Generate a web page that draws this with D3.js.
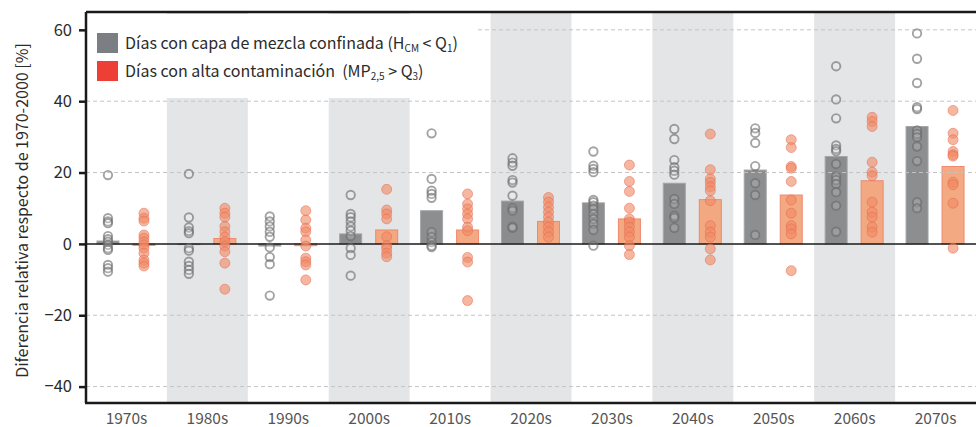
<!DOCTYPE html>
<html>
<head>
<meta charset="utf-8">
<script src="https://cdn.jsdelivr.net/npm/d3@7"></script>
<style>
  html, body { margin: 0; padding: 0; background: #fff; }
  svg { display: block; font-family: "Noto Sans CJK JP", "Noto Sans", sans-serif; }
  .legend text { white-space: pre; }
</style>
</head>
<body>
<svg id="chart" width="976" height="427"></svg>
<script>
// Decades on the x axis
const decades = ["1970s","1980s","1990s","2000s","2010s","2020s","2030s","2040s","2050s","2060s","2070s"];

// Ensemble means (bars), % change relative to 1970-2000
const confinedMean = [0.8, -0.2, -0.6, 2.8, 9.3, 12.0, 11.5, 17.0, 20.7, 24.5, 32.9];
const pollutionMean = [-0.4, 1.5, -0.5, 3.9, 3.9, 6.3, 7.0, 12.4, 13.7, 17.7, 21.7];

// Individual model results: days with confined mixing layer (H_CM < Q1)
const confinedModels = [
  [19.3, 7.2, 6.3, 5.8, 2.2, 1.3, 0.6, -0.3, -1.2, -1.7, -5.9, -6.8, -7.8],
  [19.6, 7.4, 4.6, 3.6, 3.0, -1.2, -1.9, -5.0, -6.2, -7.3, -8.4],
  [7.7, 6.3, 4.9, 3.4, 2.0, -1.0, -3.7, -5.7, -14.5],
  [13.7, 8.4, 7.5, 6.3, 4.9, 3.7, 2.2, -1.2, -3.1, -8.9],
  [31.0, 18.2, 14.9, 14.0, 12.9, 3.3, 1.9, 0.5, -0.5, -0.9],
  [24.0, 22.8, 21.9, 17.9, 17.2, 13.5, 10.0, 9.3, 4.8, 4.5],
  [25.9, 21.9, 21.0, 20.1, 12.3, 11.7, 10.7, 9.8, 8.4, 7.0, 5.6, 3.9, -0.5],
  [32.2, 29.4, 23.5, 21.5, 20.5, 19.4, 12.6, 11.2, 7.9, 7.3, 4.5],
  [32.4, 31.1, 28.3, 21.8, 17.0, 13.7, 2.5],
  [49.8, 40.5, 35.2, 27.6, 26.6, 26.0, 22.4, 18.9, 17.9, 16.8, 14.5, 10.7, 3.4],
  [59.0, 51.9, 45.1, 38.3, 37.8, 31.8, 30.8, 29.9, 27.3, 23.2, 11.7, 10.0]
];

// Individual model results: days with high pollution (MP2,5 > Q3)
const pollutionModels = [
  [8.6, 7.2, 6.4, 2.5, 1.6, 0.6, -0.3, -1.2, -2.6, -4.5, -5.4, -6.2],
  [10.0, 8.6, 7.5, 4.9, 3.4, 1.9, 0.6, -0.6, -2.2, -5.4, -12.7],
  [9.3, 6.7, 4.4, 3.4, 1.1, -0.6, -4.0, -5.0, -5.9, -10.1],
  [15.3, 9.5, 8.4, 7.0, 2.0, -0.5, -1.4, -2.6, -3.6],
  [14.0, 11.2, 9.8, 8.4, 7.0, 4.7, 3.7, -3.8, -5.1, -15.9],
  [13.0, 11.7, 10.3, 8.9, 7.5, 6.1, 4.7, 3.3, 1.9],
  [22.1, 17.5, 14.7, 10.0, 7.0, 6.1, 4.7, 3.3, 1.9, -0.5, -3.0],
  [30.8, 20.8, 18.2, 17.2, 16.0, 14.9, 12.1, 5.1, 3.3, 1.9, -1.4, -4.5],
  [29.2, 27.0, 21.7, 21.2, 17.5, 12.3, 8.6, 5.1, 4.2, 2.8, -7.5],
  [35.5, 34.3, 32.9, 22.9, 20.1, 19.1, 11.7, 8.9, 7.5, 4.7, 3.3],
  [37.4, 31.0, 29.2, 25.9, 25.0, 24.6, 17.3, 16.6, 11.4, -1.2]
];

const yTicks = [60, 40, 20, 0, -20, -40];
const yLabel = "Diferencia relativa respecto de 1970-2000 [%]";

const svg = d3.select("#chart");
const margin = { left: 86, right: 976, top: 12, bottom: 403 };

const x = d3.scaleBand().domain(decades).range([margin.left, margin.right]).padding(0);
const y = d3.scaleLinear().domain([-44.6, 65]).range([margin.bottom, margin.top]);

const bw = x.bandwidth();
const offConf = -18.5, offPoll = 17.5, barW = 22;

// Alternate decade shading
svg.append("g").selectAll("rect")
  .data(decades.filter((d, i) => i % 2 === 1))
  .join("rect")
  .attr("x", d => x(d))
  .attr("y", margin.top)
  .attr("width", bw)
  .attr("height", margin.bottom - margin.top)
  .attr("fill", "#e4e5e7");

// Bars
const bars = svg.append("g");
bars.selectAll("rect.conf")
  .data(decades)
  .join("rect")
  .attr("class", "conf")
  .attr("x", d => x(d) + bw / 2 + offConf - barW / 2)
  .attr("width", barW)
  .attr("y", (d, i) => y(Math.max(0, confinedMean[i])))
  .attr("height", (d, i) => Math.abs(y(confinedMean[i]) - y(0)))
  .attr("fill", "#838486")
  .attr("fill-opacity", 0.92)
  .attr("stroke", "#a4a5a7")
  .attr("stroke-width", 1);
bars.selectAll("rect.poll")
  .data(decades)
  .join("rect")
  .attr("class", "poll")
  .attr("x", d => x(d) + bw / 2 + offPoll - barW / 2)
  .attr("width", barW)
  .attr("y", (d, i) => y(Math.max(0, pollutionMean[i])))
  .attr("height", (d, i) => Math.abs(y(pollutionMean[i]) - y(0)))
  .attr("fill", "#f2a47a")
  .attr("fill-opacity", 0.95)
  .attr("stroke", "#ee8a70")
  .attr("stroke-width", 1);

// Dashed gridlines
svg.append("g").selectAll("line")
  .data(yTicks.filter(t => t !== 0))
  .join("line")
  .attr("x1", margin.left).attr("x2", margin.right)
  .attr("y1", d => y(d)).attr("y2", d => y(d))
  .attr("stroke", "#c4c4c4")
  .attr("stroke-width", 1)
  .attr("stroke-dasharray", "4,3");

// Zero line
svg.append("line")
  .attr("x1", margin.left).attr("x2", margin.right)
  .attr("y1", y(0)).attr("y2", y(0))
  .attr("stroke", "#1a1a1a").attr("stroke-width", 1.5);

// Model points
const confPts = confinedModels.flatMap((arr, i) => arr.map(v => ({ d: decades[i], v })));
const pollPts = pollutionModels.flatMap((arr, i) => arr.map(v => ({ d: decades[i], v })));

svg.append("g").selectAll("circle")
  .data(pollPts)
  .join("circle")
  .attr("cx", p => x(p.d) + bw / 2 + offPoll)
  .attr("cy", p => y(p.v))
  .attr("r", 5)
  .attr("fill", "#f08a66")
  .attr("fill-opacity", 0.62)
  .attr("stroke", "#e8664e")
  .attr("stroke-opacity", 0.5)
  .attr("stroke-width", 1);

svg.append("g").selectAll("circle")
  .data(confPts)
  .join("circle")
  .attr("cx", p => x(p.d) + bw / 2 + offConf)
  .attr("cy", p => y(p.v))
  .attr("r", 4.2)
  .attr("fill", "#ffffff")
  .attr("fill-opacity", 0.15)
  .attr("stroke", "#6a6a6a")
  .attr("stroke-opacity", 0.62)
  .attr("stroke-width", 1.9);

// Legend panel
const lg = svg.append("g").attr("class", "legend");
lg.append("rect")
  .attr("x", margin.left + 1).attr("y", 14)
  .attr("width", 389).attr("height", 84)
  .attr("fill", "#fff");
lg.append("rect").attr("x", 97).attr("y", 33).attr("width", 21).attr("height", 20).attr("fill", "#7b7e83");
lg.append("rect").attr("x", 97).attr("y", 61).attr("width", 21).attr("height", 20).attr("fill", "#ee3f37");

const t1 = lg.append("text").attr("x", 125).attr("y", 48.5)
  .attr("font-size", 16).attr("fill", "#2b2b2b");
t1.append("tspan").text("Días con capa de mezcla confinada (H");
t1.append("tspan").attr("font-size", 10).attr("dy", 3).text("CM");
t1.append("tspan").attr("dy", -3).text(" < Q");
t1.append("tspan").attr("font-size", 10).attr("dy", 3).text("1");
t1.append("tspan").attr("dy", -3).text(")");

const t2 = lg.append("text").attr("x", 125).attr("y", 76.5)
  .attr("font-size", 16).attr("fill", "#2b2b2b");
t2.append("tspan").text("Días con alta contaminación\u00a0 (MP");
t2.append("tspan").attr("font-size", 10).attr("dy", 3).text("2,5");
t2.append("tspan").attr("dy", -3).text(" > Q");
t2.append("tspan").attr("font-size", 10).attr("dy", 3).text("3");
t2.append("tspan").attr("dy", -3).text(")");

// Frame: top line, left axis, bottom axis
svg.append("line").attr("x1", margin.left).attr("x2", margin.right)
  .attr("y1", margin.top).attr("y2", margin.top)
  .attr("stroke", "#1a1a1a").attr("stroke-width", 2.5);

const yAxis = svg.append("g")
  .attr("transform", `translate(${margin.left},0)`)
  .call(d3.axisLeft(y).tickValues(yTicks).tickSize(7).tickPadding(7).tickFormat(d3.format("d")));
yAxis.select(".domain").attr("stroke", "#1a1a1a").attr("stroke-width", 2.5)
  .attr("d", `M0,${margin.top}V${margin.bottom}`);
yAxis.selectAll(".tick line").attr("stroke", "#1a1a1a").attr("stroke-width", 2.5);
yAxis.selectAll(".tick text").attr("font-size", 16.5).attr("fill", "#2b2b2b")
  .attr("font-family", "\"Noto Sans CJK JP\", \"Noto Sans\", sans-serif");

const xAxis = svg.append("g")
  .attr("transform", `translate(0,${margin.bottom})`)
  .call(d3.axisBottom(x).tickSize(0).tickPadding(10));
xAxis.select(".domain").attr("stroke", "#1a1a1a").attr("stroke-width", 2.5)
  .attr("d", `M${margin.left - 1},0H${margin.right}`);
xAxis.selectAll(".tick text").attr("font-size", 15.5).attr("fill", "#555")
  .attr("font-family", "\"Noto Sans CJK JP\", \"Noto Sans\", sans-serif");

// Y axis title
svg.append("text")
  .attr("transform", `translate(28,${(y(-44.6) + y(65)) / 2 + 3}) rotate(-90)`)
  .attr("text-anchor", "middle")
  .attr("font-size", 16)
  .attr("fill", "#2b2b2b")
  .text(yLabel);
</script>
</body>
</html>
